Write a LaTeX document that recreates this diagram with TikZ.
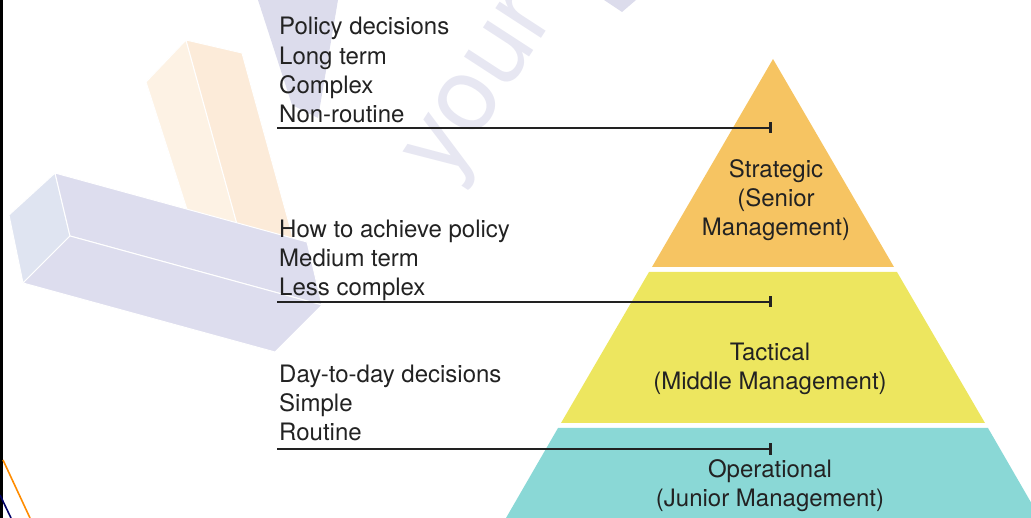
\documentclass[tikz,border=0pt]{standalone}
\usepackage{fontspec}
\setmainfont{TeX Gyre Heros}
\usetikzlibrary{arrows.meta}

\definecolor{strat}{HTML}{F6C462}
\definecolor{tact}{HTML}{EDE65F}
\definecolor{oper}{HTML}{8AD8D6}
\definecolor{ink}{HTML}{222222}
\definecolor{lavtop}{HTML}{DDDDEE}
\definecolor{lavend}{HTML}{DFE4F1}
\definecolor{peachA}{HTML}{FDF2E4}
\definecolor{peachB}{HTML}{FCEBD9}
\definecolor{wmark}{HTML}{DCDCEC}

\tikzset{
  note/.style={anchor=base west,inner sep=0pt,font=\fontsize{24}{29}\selectfont,text=ink},
  level/.style={align=center,inner sep=0pt,font=\fontsize{24}{29}\selectfont,text=ink},
  rule/.style={ink,line width=2.6pt,-{Bar[width=11pt,line width=3.5pt]}},
  face/.style={draw=white,line width=1pt,line join=round}
}

\begin{document}
\begin{tikzpicture}[x=1pt,y=-1pt]
\useasboundingbox (0,0) rectangle (1031,518);
\clip (0,0) rectangle (1031,518);

% faint blocks in the back
\fill[wmark] (258,0) -- (338,0) -- (318,118) -- (292,105) -- cycle;
\fill[wmark] (604,0) -- (636,0) -- (622,12) -- cycle;
\filldraw[face,fill=peachA] (146,82) -- (186,40) -- (240,235) -- (200,250) -- cycle;
\filldraw[face,fill=peachB] (186,40) -- (242,53) -- (295,245) -- (240,235) -- cycle;
\filldraw[face,fill=lavend] (55,173) -- (9,215) -- (23,283) -- (70,236) -- cycle;
\filldraw[face,fill=lavtop] (55,173) -- (70,236) -- (322,305) -- (307,242) -- cycle;
\filldraw[face,fill=lavtop] (70,236) -- (23,283) -- (275,352) -- (322,305) -- cycle;
\node[rotate=57,text=wmark!70!white,font=\fontsize{104}{104}\selectfont] (wm) at (488,90) {your};

% frame bits on the left
\draw[line width=2.5pt] (1.5,0) -- (1.5,518);
\draw[orange!90!yellow,line width=1.6pt] (3,460) -- (30,518);
\draw[blue!40!black,line width=1.6pt] (0,495) -- (11,518);

% the three levels
\fill[strat] (773,59) -- (894,267) -- (652,267) -- cycle;
\fill[tact] (649,272) -- (897,272) -- (985,423) -- (561,423) -- cycle;
\fill[oper] (558,428) -- (988,428) -- (1040,518) -- (506,518) -- cycle;

\node[level] (strategic) at (776,200) {Strategic\\(Senior\\Management)};
\node[level] (tactical) at (770,369) {Tactical\\(Middle Management)};
\node[level] (operational) at (770,486) {Operational\\(Junior Management)};

% decision notes
\foreach \txt [count=\i] in {Policy decisions,Long term,Complex,Non-routine}
  \node[note] (pol\i) at (279,{5.7+29.3*\i}) {\txt};
\foreach \txt [count=\i] in {How to achieve policy,Medium term,Less complex}
  \node[note] (how\i) at (279,{209+29*\i}) {\txt};
\foreach \txt [count=\i] in {Day-to-day decisions,Simple,Routine}
  \node[note] (day\i) at (279,{354+29*\i}) {\txt};

\coordinate (a1) at (277,128);
\coordinate (b1) at (772,128);
\coordinate (a2) at (277,302);
\coordinate (b2) at (772,302);
\coordinate (a3) at (277,449);
\coordinate (b3) at (772,449);
\foreach \i in {1,2,3}
  \draw[rule] (a\i) -- (b\i);

\end{tikzpicture}
\end{document}
